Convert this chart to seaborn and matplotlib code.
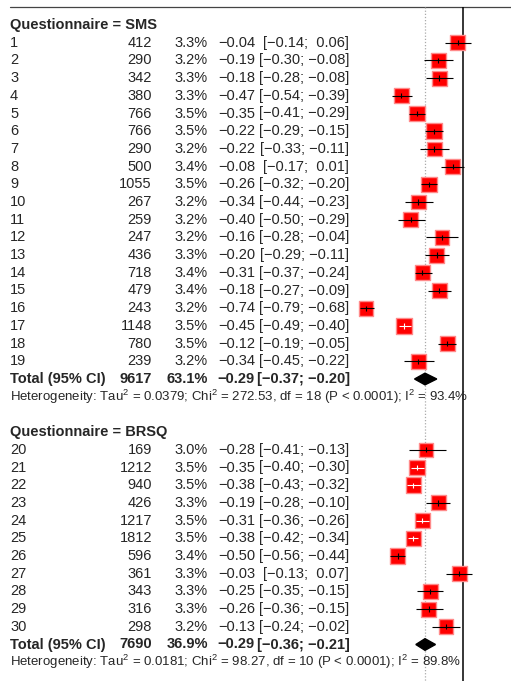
import numpy as np
import pandas as pd
import seaborn as sns
import matplotlib.pyplot as plt
import matplotlib.transforms as mtransforms


# -------------------------------
# Data
# -------------------------------

study = [str(i) for i in range(1, 31)]
questionnaire = ["SMS"] * 19 + ["BRSQ"] * 11
n_total = [412, 290, 342, 380, 766, 766, 290, 500, 1055, 267, 259, 247, 436, 718,
           479, 243, 1148, 780, 239,
           169, 1212, 940, 426, 1217, 1812, 596, 361, 343, 316, 298]
weight = [3.3, 3.2, 3.3, 3.3, 3.5, 3.5, 3.2, 3.4, 3.5, 3.2, 3.2, 3.2, 3.3, 3.4,
          3.4, 3.2, 3.5, 3.5, 3.2,
          3.0, 3.5, 3.5, 3.3, 3.5, 3.5, 3.4, 3.3, 3.3, 3.3, 3.2]
estimate = [-0.04, -0.19, -0.18, -0.47, -0.35, -0.22, -0.22, -0.08, -0.26, -0.34,
            -0.40, -0.16, -0.20, -0.31, -0.18, -0.74, -0.45, -0.12, -0.34,
            -0.28, -0.35, -0.38, -0.19, -0.31, -0.38, -0.50, -0.03, -0.25, -0.26, -0.13]
lower = [-0.14, -0.30, -0.28, -0.54, -0.41, -0.29, -0.33, -0.17, -0.32, -0.44,
         -0.50, -0.28, -0.29, -0.37, -0.27, -0.79, -0.49, -0.19, -0.45,
         -0.41, -0.40, -0.43, -0.28, -0.36, -0.42, -0.56, -0.13, -0.35, -0.36, -0.24]
upper = [0.06, -0.08, -0.08, -0.39, -0.29, -0.15, -0.11, 0.01, -0.20, -0.23,
         -0.29, -0.04, -0.11, -0.24, -0.09, -0.68, -0.40, -0.05, -0.22,
         -0.13, -0.30, -0.32, -0.10, -0.26, -0.34, -0.44, 0.07, -0.15, -0.15, -0.02]

groups = ["SMS", "BRSQ"]
group_n = [9617, 7690]
group_weight = [63.1, 36.9]
group_est = [-0.29, -0.29]
group_lower = [-0.37, -0.36]
group_upper = [-0.20, -0.21]
group_tau2 = ["0.0379", "0.0181"]
group_chi2 = ["272.53", "98.27"]
group_df = [18, 10]
group_i2 = ["93.4%", "89.8%"]

overall_est = -0.29

df = pd.DataFrame({
    "study": study,
    "questionnaire": questionnaire,
    "n": n_total,
    "weight": weight,
    "est": estimate,
    "lower": lower,
    "upper": upper,
})


def fmt(v, pad=False):
    s = f"{v:.2f}".replace("-", "\u2212")
    if pad and v >= 0:
        s = " " + s
    return s


# -------------------------------
# Row layout
# -------------------------------

rows = []
group_rows = {}
r = 0
for g in groups:
    header = r
    r += 1
    sub = df[df["questionnaire"] == g]
    rows.extend(range(r, r + len(sub)))
    r += len(sub)
    group_rows[g] = (header, r, r + 1)
    r += 3
df["row"] = rows


# -------------------------------
# Plot
# -------------------------------

sns.set_style("white")
plt.rcParams["font.family"] = ["Liberation Sans", "DejaVu Sans"]
plt.rcParams["mathtext.fontset"] = "custom"
plt.rcParams["mathtext.rm"] = "Liberation Sans"

W, H = 511, 681
fig = plt.figure(figsize=(W / 100, H / 100), dpi=100)
ax = fig.add_axes([0, 0, 1, 1])

zero_px = 463
px_per_unit = 131
top_px = 25
row_px = 17.7
ax.set_xlim((0 - zero_px) / px_per_unit, (W - zero_px) / px_per_unit)
ax.set_ylim((H - top_px) / row_px, (0 - top_px) / row_px)
ax.axis("off")

trans = mtransforms.blended_transform_factory(ax.transAxes, ax.transData)


def col(px):
    return px / W


fs = 10.5
fs_small = 9.5

# reference lines
ax.plot([col(10), 1], [-1.02, -1.02], transform=trans, color="#444444", lw=0.9)
ax.vlines(0, -1.02, 50, color="black", lw=1.1)
ax.vlines(overall_est, -1.02, 50, color="#aaaaaa", lw=0.9, linestyles=(0, (1, 1.5)))

# squares
box_px = 14 * np.sqrt(df["weight"] / 3.3)
sizes = ((box_px + 1.0) * 72 / 100) ** 2
sns.scatterplot(
    data=df,
    x="est",
    y="row",
    marker="s",
    s=sizes,
    color="red",
    edgecolor="#ff8a8a",
    linewidth=1.0,
    legend=False,
    zorder=3,
    ax=ax,
)

# confidence intervals and centre ticks
for _, d in df.iterrows():
    inside = (d["upper"] - d["lower"]) * px_per_unit < 14 * np.sqrt(d["weight"] / 3.3)
    c = "white" if inside else "black"
    ax.hlines(d["row"], d["lower"], d["upper"], color=c, lw=0.8, zorder=4)
    ax.vlines(d["est"], d["row"] - 0.15, d["row"] + 0.15, color=c, lw=0.8, zorder=4)

    ax.text(col(10), d["row"], d["study"], transform=trans, fontsize=fs, va="center")
    ax.text(col(152), d["row"], str(d["n"]), transform=trans, fontsize=fs,
            va="center", ha="right")
    ax.text(col(208), d["row"], f"{d['weight']:.1f}%", transform=trans, fontsize=fs,
            va="center", ha="right")
    ax.text(col(255), d["row"], fmt(d["est"]), transform=trans, fontsize=fs,
            va="center", ha="right")
    ax.text(col(349), d["row"], f"[{fmt(d['lower'])}; {fmt(d['upper'], True)}]",
            transform=trans, fontsize=fs, va="center", ha="right")

# subgroup headers, totals and heterogeneity
for i, g in enumerate(groups):
    header, total_row, het_row = group_rows[g]
    ax.text(col(10), header, f"Questionnaire = {g}", transform=trans, fontsize=fs,
            fontweight="bold", va="center")
    ax.text(col(10), total_row, "Total (95% CI)", transform=trans, fontsize=fs,
            fontweight="bold", va="center")
    ax.text(col(152), total_row, str(group_n[i]), transform=trans, fontsize=fs,
            fontweight="bold", va="center", ha="right")
    ax.text(col(208), total_row, f"{group_weight[i]:.1f}%", transform=trans,
            fontsize=fs, fontweight="bold", va="center", ha="right")
    ax.text(col(254), total_row, fmt(group_est[i]), transform=trans, fontsize=fs,
            fontweight="bold", va="center", ha="right")
    ax.text(col(350), total_row,
            f"[{fmt(group_lower[i])}; {fmt(group_upper[i], True)}]",
            transform=trans, fontsize=fs, fontweight="bold", va="center", ha="right")

    h = 0.33
    ax.fill([group_lower[i], group_est[i], group_upper[i], group_est[i]],
            [total_row, total_row - h, total_row, total_row + h],
            color="black", zorder=4)

    het = (f"Heterogeneity: Tau$^2$ = {group_tau2[i]}; Chi$^2$ = {group_chi2[i]}, "
           f"df = {group_df[i]} (P < 0.0001); I$^2$ = {group_i2[i]}")
    ax.text(col(10), het_row, het, transform=trans, fontsize=fs_small, va="center")

fig.savefig("out.png", dpi=100)
